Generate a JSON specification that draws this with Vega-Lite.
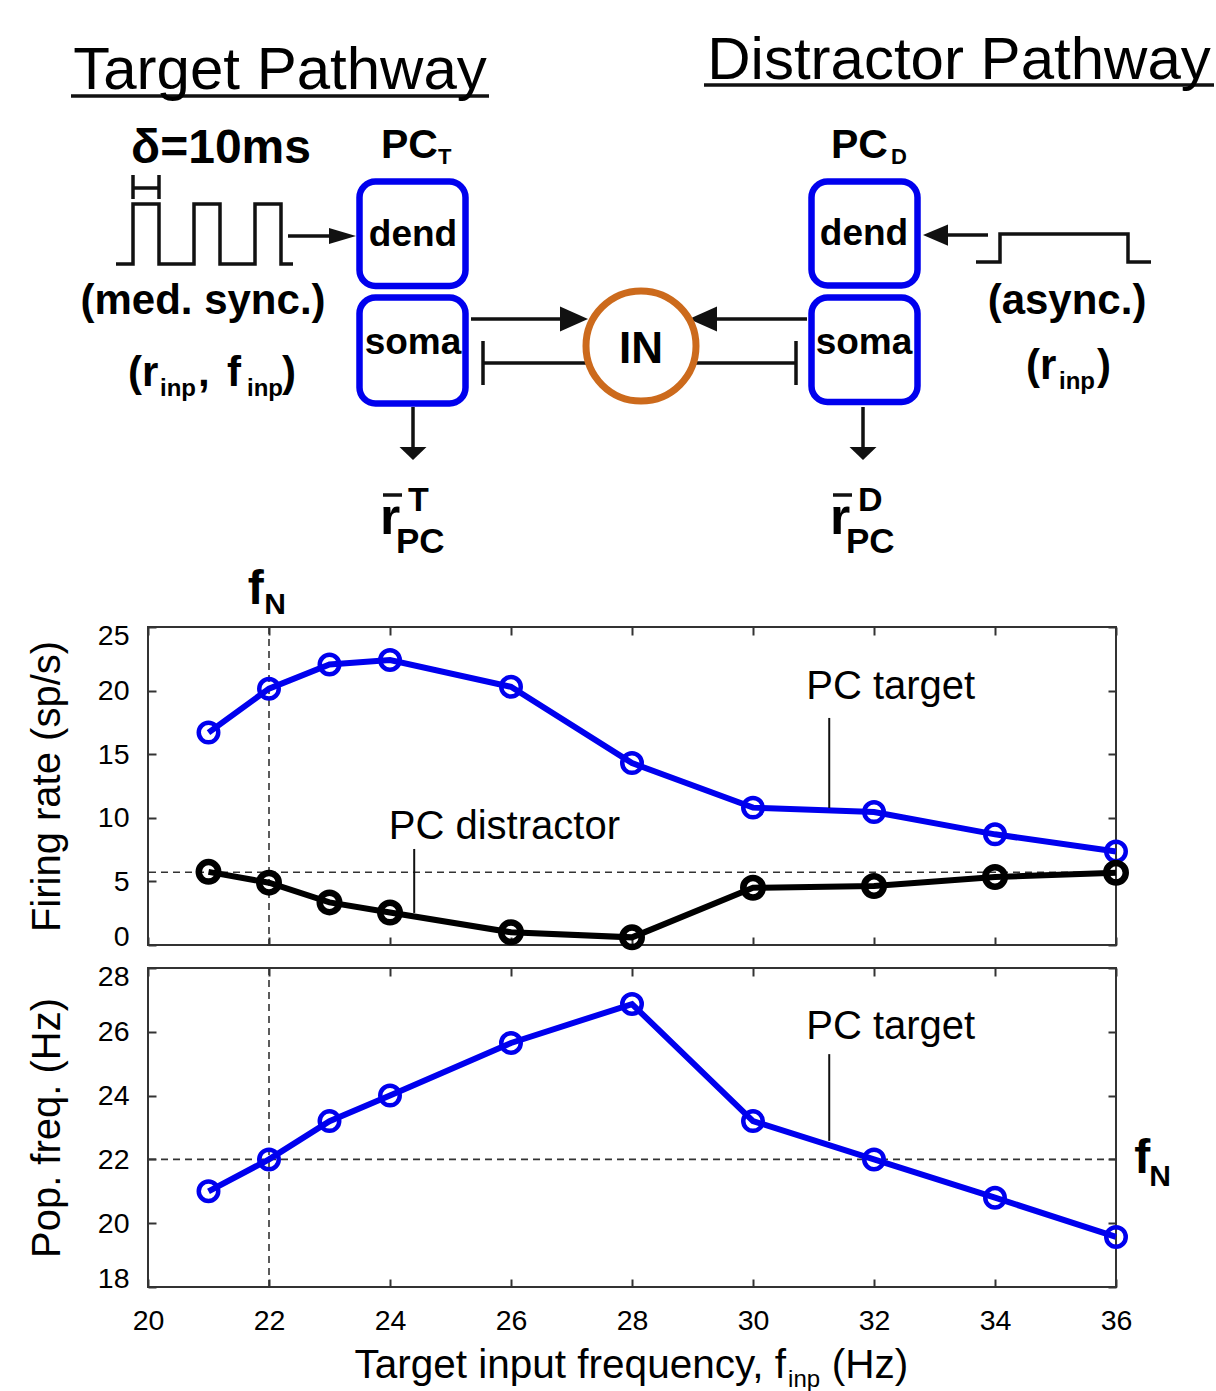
{
"$schema": "https://vega.github.io/schema/vega-lite/v6.json",
"background": "white",
"padding": {"left": 25, "top": 0, "right": 0, "bottom": 0},
"autosize": {"type": "pad"},
"bounds": "flush",
"spacing": 23,
"config": {
  "font": "Liberation Sans",
  "view": {"stroke": "#333333", "strokeWidth": 2},
  "axis": {"grid": false, "domain": false, "tickColor": "#333333", "tickWidth": 2, "tickSize": -8,
    "labelFlush": false, "labelOverlap": false,
    "labelFont": "Liberation Sans", "labelFontSize": 28.5, "labelColor": "#000000",
    "titleFont": "Liberation Sans", "titleFontSize": 40, "titleFontWeight": "normal", "titleColor": "#000000"}
},
"datasets": {
  "firing": [
    {"f": 21, "series": "PC target", "rate": 16.7},
    {"f": 22, "series": "PC target", "rate": 20.15},
    {"f": 23, "series": "PC target", "rate": 22.05},
    {"f": 24, "series": "PC target", "rate": 22.4},
    {"f": 26, "series": "PC target", "rate": 20.3},
    {"f": 28, "series": "PC target", "rate": 14.3},
    {"f": 30, "series": "PC target", "rate": 10.8},
    {"f": 32, "series": "PC target", "rate": 10.45},
    {"f": 34, "series": "PC target", "rate": 8.7},
    {"f": 36, "series": "PC target", "rate": 7.35},
    {"f": 21, "series": "PC distractor", "rate": 5.75},
    {"f": 22, "series": "PC distractor", "rate": 4.9},
    {"f": 23, "series": "PC distractor", "rate": 3.35},
    {"f": 24, "series": "PC distractor", "rate": 2.55},
    {"f": 26, "series": "PC distractor", "rate": 1.0},
    {"f": 28, "series": "PC distractor", "rate": 0.6},
    {"f": 30, "series": "PC distractor", "rate": 4.5},
    {"f": 32, "series": "PC distractor", "rate": 4.64},
    {"f": 34, "series": "PC distractor", "rate": 5.35},
    {"f": 36, "series": "PC distractor", "rate": 5.68}
  ],
  "popfreq": [
    {"f": 21, "freq": 21.0},
    {"f": 22, "freq": 22.0},
    {"f": 23, "freq": 23.2},
    {"f": 24, "freq": 24.0},
    {"f": 26, "freq": 25.65},
    {"f": 28, "freq": 26.87},
    {"f": 30, "freq": 23.2},
    {"f": 32, "freq": 22.0},
    {"f": 34, "freq": 20.8},
    {"f": 36, "freq": 19.57}
  ],
  "refRate": [{"f": 22, "rate": 5.72}],
  "refFreq": [{"f": 22, "freq": 22}],
  "leadersRate": [{"f": 31.26, "rate": 17.85, "rate2": 10.77}, {"f": 24.4, "rate": 7.55, "rate2": 2.52}],
  "leadersFreq": [{"f": 31.26, "freq": 25.3, "freq2": 22.58}],
  "labelsRate": [{"text": "PC target", "f": 30.88, "rate": 19.34}, {"text": "PC distractor", "f": 23.98, "rate": 8.33}],
  "labelsFreq": [{"text": "PC target", "f": 30.88, "freq": 25.77}],
  "fNRate": [{"text": "f", "role": "main", "f": 21.65, "rate": 26.8}, {"text": "N", "role": "sub", "f": 21.92, "rate": 26.02}],
  "fNFreq": [{"text": "f", "role": "main", "f": 36.3, "freq": 21.57}, {"text": "N", "role": "sub", "f": 36.55, "freq": 21.17}],
  "xTitle": [
    {"text": "Target input frequency, f", "role": "lead", "f": 30.545, "freq": 15.15},
    {"text": "inp", "role": "sub", "f": 30.58, "freq": 14.88},
    {"text": "(Hz)", "role": "tail", "f": 31.3, "freq": 15.15}
  ],
  "dgLines": [
    {"seg": "ul1", "i": 0, "x": 70, "y": 95}, {"seg": "ul1", "i": 1, "x": 488, "y": 95},
    {"seg": "ul2", "i": 0, "x": 703, "y": 84}, {"seg": "ul2", "i": 1, "x": 1213, "y": 84},
    {"seg": "pulseT", "i": 0, "x": 115, "y": 263}, {"seg": "pulseT", "i": 1, "x": 132, "y": 263},
    {"seg": "pulseT", "i": 2, "x": 132, "y": 203}, {"seg": "pulseT", "i": 3, "x": 158, "y": 203},
    {"seg": "pulseT", "i": 4, "x": 158, "y": 263}, {"seg": "pulseT", "i": 5, "x": 193, "y": 263},
    {"seg": "pulseT", "i": 6, "x": 193, "y": 203}, {"seg": "pulseT", "i": 7, "x": 219, "y": 203},
    {"seg": "pulseT", "i": 8, "x": 219, "y": 263}, {"seg": "pulseT", "i": 9, "x": 254, "y": 263},
    {"seg": "pulseT", "i": 10, "x": 254, "y": 203}, {"seg": "pulseT", "i": 11, "x": 280, "y": 203},
    {"seg": "pulseT", "i": 12, "x": 280, "y": 263}, {"seg": "pulseT", "i": 13, "x": 292, "y": 263},
    {"seg": "hL", "i": 0, "x": 132, "y": 174}, {"seg": "hL", "i": 1, "x": 132, "y": 198},
    {"seg": "hR", "i": 0, "x": 158, "y": 174}, {"seg": "hR", "i": 1, "x": 158, "y": 198},
    {"seg": "hC", "i": 0, "x": 132, "y": 187}, {"seg": "hC", "i": 1, "x": 158, "y": 187},
    {"seg": "pulseD", "i": 0, "x": 975, "y": 261}, {"seg": "pulseD", "i": 1, "x": 999, "y": 261},
    {"seg": "pulseD", "i": 2, "x": 999, "y": 233}, {"seg": "pulseD", "i": 3, "x": 1127, "y": 233},
    {"seg": "pulseD", "i": 4, "x": 1127, "y": 261}, {"seg": "pulseD", "i": 5, "x": 1150, "y": 261},
    {"seg": "a1", "i": 0, "x": 287, "y": 235}, {"seg": "a1", "i": 1, "x": 342, "y": 235},
    {"seg": "a2", "i": 0, "x": 987, "y": 234}, {"seg": "a2", "i": 1, "x": 934, "y": 234},
    {"seg": "a3", "i": 0, "x": 470, "y": 318}, {"seg": "a3", "i": 1, "x": 574, "y": 318},
    {"seg": "a4", "i": 0, "x": 806, "y": 318}, {"seg": "a4", "i": 1, "x": 701, "y": 318},
    {"seg": "inh1", "i": 0, "x": 586, "y": 362}, {"seg": "inh1", "i": 1, "x": 482, "y": 362},
    {"seg": "inh1b", "i": 0, "x": 482, "y": 340}, {"seg": "inh1b", "i": 1, "x": 482, "y": 384},
    {"seg": "inh2", "i": 0, "x": 694, "y": 362}, {"seg": "inh2", "i": 1, "x": 795, "y": 362},
    {"seg": "inh2b", "i": 0, "x": 795, "y": 340}, {"seg": "inh2b", "i": 1, "x": 795, "y": 384},
    {"seg": "out1", "i": 0, "x": 412, "y": 406}, {"seg": "out1", "i": 1, "x": 412, "y": 452},
    {"seg": "out2", "i": 0, "x": 862, "y": 406}, {"seg": "out2", "i": 1, "x": 862, "y": 452},
    {"seg": "bar1", "i": 0, "x": 382, "y": 494}, {"seg": "bar1", "i": 1, "x": 401, "y": 494},
    {"seg": "bar2", "i": 0, "x": 832, "y": 494}, {"seg": "bar2", "i": 1, "x": 851, "y": 494}
  ],
  "dgHeads": [
    {"kind": "rS", "x": 341.5, "y": 235},
    {"kind": "lS", "x": 934.5, "y": 234},
    {"kind": "rB", "x": 573, "y": 318},
    {"kind": "lB", "x": 702, "y": 318},
    {"kind": "dn", "x": 412, "y": 452.5},
    {"kind": "dn", "x": 862, "y": 452.5}
  ],
  "dgBoxes": [
    {"name": "dendT", "x": 358.5, "x2": 464.5, "y": 180.5, "y2": 285},
    {"name": "somaT", "x": 358.5, "x2": 464.5, "y": 296.5, "y2": 402.5},
    {"name": "dendD", "x": 810.5, "x2": 916.5, "y": 180.5, "y2": 284.5},
    {"name": "somaD", "x": 810.5, "x2": 916.5, "y": 296.5, "y2": 401}
  ],
  "dgNode": [{"name": "IN", "x": 640, "y": 345}],
  "dgTitles": [{"text": "Target Pathway", "x": 279, "y": 88}, {"text": "Distractor Pathway", "x": 958, "y": 78}],
  "dgCenter": [
    {"text": "δ=10ms", "role": "delta", "x": 220, "y": 162},
    {"text": "dend", "role": "box", "x": 412, "y": 245},
    {"text": "soma", "role": "box", "x": 412, "y": 353},
    {"text": "dend", "role": "box", "x": 863, "y": 244},
    {"text": "soma", "role": "box", "x": 863, "y": 353},
    {"text": "IN", "role": "node", "x": 640, "y": 362},
    {"text": "(med. sync.)", "role": "note", "x": 202, "y": 313},
    {"text": "(async.)", "role": "note", "x": 1066, "y": 313}
  ],
  "dgLeft": [
    {"text": "PC", "role": "pc", "x": 380, "y": 157},
    {"text": "T", "role": "pcsub", "x": 437, "y": 163},
    {"text": "PC", "role": "pc", "x": 830, "y": 157},
    {"text": "D", "role": "pcsub", "x": 890, "y": 163},
    {"text": "(r", "role": "note", "x": 127, "y": 385},
    {"text": "inp", "role": "inp", "x": 159, "y": 395},
    {"text": ",", "role": "note", "x": 197, "y": 385},
    {"text": "f", "role": "note", "x": 226, "y": 385},
    {"text": "inp", "role": "inp", "x": 246, "y": 395},
    {"text": ")", "role": "note", "x": 281, "y": 385},
    {"text": "(r", "role": "note", "x": 1025, "y": 378},
    {"text": "inp", "role": "inp", "x": 1058, "y": 388},
    {"text": ")", "role": "note", "x": 1096, "y": 378},
    {"text": "r", "role": "rbar", "x": 379, "y": 533},
    {"text": "PC", "role": "rsub", "x": 395, "y": 552},
    {"text": "T", "role": "rsup", "x": 407, "y": 510},
    {"text": "r", "role": "rbar", "x": 829, "y": 533},
    {"text": "PC", "role": "rsub", "x": 845, "y": 552},
    {"text": "D", "role": "rsup", "x": 857, "y": 510}
  ]
},
"vconcat": [
  {
    "width": 968, "height": 603,
    "view": {"stroke": "white", "fill": "white"},
    "layer": [
      {"data": {"name": "dgLines"},
       "mark": {"type": "line", "color": "#111111", "strokeWidth": 3.5, "strokeCap": "butt"},
       "encoding": {
         "x": {"field": "x", "type": "quantitative", "scale": {"domain": [147, 1115], "nice": false, "zero": false}, "axis": null},
         "y": {"field": "y", "type": "quantitative", "scale": {"domain": [0, 603], "nice": false, "zero": false, "reverse": true}, "axis": null},
         "detail": {"field": "seg", "type": "nominal"},
         "order": {"field": "i", "type": "quantitative"}}},
      {"data": {"name": "dgHeads"}, "transform": [{"filter": "datum.kind === 'rS'"}],
       "mark": {"type": "point", "shape": "M1,0L-1,-0.6L-1,0.6Z", "size": 729, "filled": true, "color": "#111111", "opacity": 1, "strokeWidth": 0},
       "encoding": {"x": {"field": "x", "type": "quantitative", "axis": null}, "y": {"field": "y", "type": "quantitative", "axis": null}}},
      {"data": {"name": "dgHeads"}, "transform": [{"filter": "datum.kind === 'lS'"}],
       "mark": {"type": "point", "shape": "M-1,0L1,-0.85L1,0.85Z", "size": 625, "filled": true, "color": "#111111", "opacity": 1, "strokeWidth": 0},
       "encoding": {"x": {"field": "x", "type": "quantitative", "axis": null}, "y": {"field": "y", "type": "quantitative", "axis": null}}},
      {"data": {"name": "dgHeads"}, "transform": [{"filter": "datum.kind === 'rB'"}],
       "mark": {"type": "point", "shape": "M1,0L-1,-0.9L-1,0.9Z", "size": 784, "filled": true, "color": "#111111", "opacity": 1, "strokeWidth": 0},
       "encoding": {"x": {"field": "x", "type": "quantitative", "axis": null}, "y": {"field": "y", "type": "quantitative", "axis": null}}},
      {"data": {"name": "dgHeads"}, "transform": [{"filter": "datum.kind === 'lB'"}],
       "mark": {"type": "point", "shape": "M-1,0L1,-0.9L1,0.9Z", "size": 784, "filled": true, "color": "#111111", "opacity": 1, "strokeWidth": 0},
       "encoding": {"x": {"field": "x", "type": "quantitative", "axis": null}, "y": {"field": "y", "type": "quantitative", "axis": null}}},
      {"data": {"name": "dgHeads"}, "transform": [{"filter": "datum.kind === 'dn'"}],
       "mark": {"type": "point", "shape": "M-1,-0.48L1,-0.48L0,0.48Z", "size": 729, "filled": true, "color": "#111111", "opacity": 1, "strokeWidth": 0},
       "encoding": {"x": {"field": "x", "type": "quantitative", "axis": null}, "y": {"field": "y", "type": "quantitative", "axis": null}}},
      {"data": {"name": "dgBoxes"},
       "mark": {"type": "rect", "cornerRadius": 16, "fill": "white", "stroke": "#0000ee", "strokeWidth": 6.5},
       "encoding": {"x": {"field": "x", "type": "quantitative", "axis": null}, "x2": {"field": "x2"},
         "y": {"field": "y", "type": "quantitative", "axis": null}, "y2": {"field": "y2"}}},
      {"data": {"name": "dgNode"},
       "mark": {"type": "point", "shape": "circle", "size": 12100, "filled": true, "fill": "white", "stroke": "#cc6a1c", "strokeWidth": 7, "opacity": 1},
       "encoding": {"x": {"field": "x", "type": "quantitative", "axis": null}, "y": {"field": "y", "type": "quantitative", "axis": null}}},
      {"data": {"name": "dgTitles"},
       "mark": {"type": "text", "font": "Liberation Sans", "fontSize": 60, "align": "center", "baseline": "alphabetic", "color": "#000000"},
       "encoding": {"x": {"field": "x", "type": "quantitative", "axis": null}, "y": {"field": "y", "type": "quantitative", "axis": null}, "text": {"field": "text"}}},
      {"data": {"name": "dgCenter"}, "transform": [{"filter": "datum.role === 'delta'"}],
       "mark": {"type": "text", "font": "Liberation Sans", "fontWeight": "bold", "fontSize": 48, "align": "center", "baseline": "alphabetic", "color": "#000000"},
       "encoding": {"x": {"field": "x", "type": "quantitative", "axis": null}, "y": {"field": "y", "type": "quantitative", "axis": null}, "text": {"field": "text"}}},
      {"data": {"name": "dgCenter"}, "transform": [{"filter": "datum.role === 'box'"}],
       "mark": {"type": "text", "font": "Liberation Sans", "fontWeight": "bold", "fontSize": 37, "align": "center", "baseline": "alphabetic", "color": "#000000"},
       "encoding": {"x": {"field": "x", "type": "quantitative", "axis": null}, "y": {"field": "y", "type": "quantitative", "axis": null}, "text": {"field": "text"}}},
      {"data": {"name": "dgCenter"}, "transform": [{"filter": "datum.role === 'node'"}],
       "mark": {"type": "text", "font": "Liberation Sans", "fontWeight": "bold", "fontSize": 44, "align": "center", "baseline": "alphabetic", "color": "#000000"},
       "encoding": {"x": {"field": "x", "type": "quantitative", "axis": null}, "y": {"field": "y", "type": "quantitative", "axis": null}, "text": {"field": "text"}}},
      {"data": {"name": "dgCenter"}, "transform": [{"filter": "datum.role === 'note'"}],
       "mark": {"type": "text", "font": "Liberation Sans", "fontWeight": "bold", "fontSize": 42, "align": "center", "baseline": "alphabetic", "color": "#000000"},
       "encoding": {"x": {"field": "x", "type": "quantitative", "axis": null}, "y": {"field": "y", "type": "quantitative", "axis": null}, "text": {"field": "text"}}},
      {"data": {"name": "dgLeft"}, "transform": [{"filter": "datum.role === 'pc'"}],
       "mark": {"type": "text", "font": "Liberation Sans", "fontWeight": "bold", "fontSize": 41, "align": "left", "baseline": "alphabetic", "color": "#000000"},
       "encoding": {"x": {"field": "x", "type": "quantitative", "axis": null}, "y": {"field": "y", "type": "quantitative", "axis": null}, "text": {"field": "text"}}},
      {"data": {"name": "dgLeft"}, "transform": [{"filter": "datum.role === 'pcsub'"}],
       "mark": {"type": "text", "font": "Liberation Sans", "fontWeight": "bold", "fontSize": 22, "align": "left", "baseline": "alphabetic", "color": "#000000"},
       "encoding": {"x": {"field": "x", "type": "quantitative", "axis": null}, "y": {"field": "y", "type": "quantitative", "axis": null}, "text": {"field": "text"}}},
      {"data": {"name": "dgLeft"}, "transform": [{"filter": "datum.role === 'note'"}],
       "mark": {"type": "text", "font": "Liberation Sans", "fontWeight": "bold", "fontSize": 42, "align": "left", "baseline": "alphabetic", "color": "#000000"},
       "encoding": {"x": {"field": "x", "type": "quantitative", "axis": null}, "y": {"field": "y", "type": "quantitative", "axis": null}, "text": {"field": "text"}}},
      {"data": {"name": "dgLeft"}, "transform": [{"filter": "datum.role === 'inp'"}],
       "mark": {"type": "text", "font": "Liberation Sans", "fontWeight": "bold", "fontSize": 24, "align": "left", "baseline": "alphabetic", "color": "#000000"},
       "encoding": {"x": {"field": "x", "type": "quantitative", "axis": null}, "y": {"field": "y", "type": "quantitative", "axis": null}, "text": {"field": "text"}}},
      {"data": {"name": "dgLeft"}, "transform": [{"filter": "datum.role === 'rbar'"}],
       "mark": {"type": "text", "font": "Liberation Sans", "fontWeight": "bold", "fontSize": 52, "align": "left", "baseline": "alphabetic", "color": "#000000"},
       "encoding": {"x": {"field": "x", "type": "quantitative", "axis": null}, "y": {"field": "y", "type": "quantitative", "axis": null}, "text": {"field": "text"}}},
      {"data": {"name": "dgLeft"}, "transform": [{"filter": "datum.role === 'rsub'"}],
       "mark": {"type": "text", "font": "Liberation Sans", "fontWeight": "bold", "fontSize": 35, "align": "left", "baseline": "alphabetic", "color": "#000000"},
       "encoding": {"x": {"field": "x", "type": "quantitative", "axis": null}, "y": {"field": "y", "type": "quantitative", "axis": null}, "text": {"field": "text"}}},
      {"data": {"name": "dgLeft"}, "transform": [{"filter": "datum.role === 'rsup'"}],
       "mark": {"type": "text", "font": "Liberation Sans", "fontWeight": "bold", "fontSize": 34, "align": "left", "baseline": "alphabetic", "color": "#000000"},
       "encoding": {"x": {"field": "x", "type": "quantitative", "axis": null}, "y": {"field": "y", "type": "quantitative", "axis": null}, "text": {"field": "text"}}}
    ]
  },
  {
    "width": 968, "height": 318,
    "resolve": {"axis": {"x": "independent", "y": "independent"}},
    "layer": [
      {"data": {"name": "refRate"},
       "mark": {"type": "rule", "color": "#333333", "strokeWidth": 1.6, "strokeDash": [7, 5]},
       "encoding": {"x": {"field": "f", "type": "quantitative", "axis": {"orient": "top", "labels": false, "values": [20, 22, 24, 26, 28, 30, 32, 34, 36], "title": null}}}},
      {"data": {"name": "refRate"},
       "mark": {"type": "rule", "color": "#333333", "strokeWidth": 1.6, "strokeDash": [7, 5]},
       "encoding": {"y": {"field": "rate", "type": "quantitative", "axis": {"orient": "right", "labels": false, "values": [0, 5, 10, 15, 20, 25], "title": null}}}},
      {"data": {"name": "firing"},
       "mark": {"type": "line", "strokeWidth": 6},
       "encoding": {
         "x": {"field": "f", "type": "quantitative", "scale": {"domain": [20, 36], "nice": false, "zero": false},
           "axis": {"orient": "bottom", "labels": false, "values": [20, 22, 24, 26, 28, 30, 32, 34, 36], "title": null}},
         "y": {"field": "rate", "type": "quantitative", "scale": {"domain": [0, 25], "nice": false},
           "axis": {"orient": "left", "values": [0, 5, 10, 15, 20, 25], "labelFlush": true, "labelFlushOffset": 6, "labelPadding": 27, "title": "Firing rate (sp/s)", "titleX": -89, "titleY": 159, "titleBaseline": "alphabetic"}},
         "color": {"field": "series", "type": "nominal", "scale": {"domain": ["PC target", "PC distractor"], "range": ["#0000ee", "#000000"]}, "legend": null}}},
      {"data": {"name": "firing"}, "transform": [{"filter": "datum.series === 'PC target'"}],
       "mark": {"type": "point", "shape": "circle", "size": 380, "filled": false, "color": "#0000ee", "strokeWidth": 4.5, "opacity": 1},
       "encoding": {"x": {"field": "f", "type": "quantitative", "axis": null}, "y": {"field": "rate", "type": "quantitative", "axis": null}}},
      {"data": {"name": "firing"}, "transform": [{"filter": "datum.series === 'PC distractor'"}],
       "mark": {"type": "point", "shape": "circle", "size": 380, "filled": false, "color": "#000000", "strokeWidth": 6.5, "opacity": 1},
       "encoding": {"x": {"field": "f", "type": "quantitative", "axis": null}, "y": {"field": "rate", "type": "quantitative", "axis": null}}},
      {"data": {"name": "leadersRate"},
       "mark": {"type": "rule", "color": "#111111", "strokeWidth": 2},
       "encoding": {"x": {"field": "f", "type": "quantitative", "axis": null}, "y": {"field": "rate", "type": "quantitative", "axis": null}, "y2": {"field": "rate2"}}},
      {"data": {"name": "labelsRate"},
       "mark": {"type": "text", "font": "Liberation Sans", "fontSize": 40, "align": "left", "baseline": "alphabetic", "color": "#000000"},
       "encoding": {"x": {"field": "f", "type": "quantitative", "axis": null}, "y": {"field": "rate", "type": "quantitative", "axis": null}, "text": {"field": "text"}}},
      {"data": {"name": "fNRate"}, "transform": [{"filter": "datum.role === 'main'"}],
       "mark": {"type": "text", "font": "Liberation Sans", "fontWeight": "bold", "fontSize": 48, "align": "left", "baseline": "alphabetic", "color": "#000000"},
       "encoding": {"x": {"field": "f", "type": "quantitative", "axis": null}, "y": {"field": "rate", "type": "quantitative", "axis": null}, "text": {"field": "text"}}},
      {"data": {"name": "fNRate"}, "transform": [{"filter": "datum.role === 'sub'"}],
       "mark": {"type": "text", "font": "Liberation Sans", "fontWeight": "bold", "fontSize": 30, "align": "left", "baseline": "alphabetic", "color": "#000000"},
       "encoding": {"x": {"field": "f", "type": "quantitative", "axis": null}, "y": {"field": "rate", "type": "quantitative", "axis": null}, "text": {"field": "text"}}}
    ]
  },
  {
    "width": 968, "height": 319,
    "resolve": {"axis": {"x": "independent", "y": "independent"}},
    "layer": [
      {"data": {"name": "refFreq"},
       "mark": {"type": "rule", "color": "#333333", "strokeWidth": 1.6, "strokeDash": [7, 5]},
       "encoding": {"x": {"field": "f", "type": "quantitative", "axis": {"orient": "top", "labels": false, "values": [20, 22, 24, 26, 28, 30, 32, 34, 36], "title": null}}}},
      {"data": {"name": "refFreq"},
       "mark": {"type": "rule", "color": "#333333", "strokeWidth": 1.6, "strokeDash": [7, 5]},
       "encoding": {"y": {"field": "freq", "type": "quantitative", "axis": {"orient": "right", "labels": false, "values": [18, 20, 22, 24, 26, 28], "title": null}}}},
      {"data": {"name": "popfreq"},
       "mark": {"type": "line", "strokeWidth": 6, "color": "#0000ee"},
       "encoding": {
         "x": {"field": "f", "type": "quantitative", "scale": {"domain": [20, 36], "nice": false, "zero": false},
           "axis": {"orient": "bottom", "values": [20, 22, 24, 26, 28, 30, 32, 34, 36], "labelPadding": 27, "title": null}},
         "y": {"field": "freq", "type": "quantitative", "scale": {"domain": [18, 28], "nice": false, "zero": false},
           "axis": {"orient": "left", "values": [18, 20, 22, 24, 26, 28], "labelFlush": true, "labelFlushOffset": 6, "labelPadding": 27, "title": "Pop. freq. (Hz)", "titleX": -89, "titleY": 159.5, "titleBaseline": "alphabetic"}}}},
      {"data": {"name": "popfreq"},
       "mark": {"type": "point", "shape": "circle", "size": 380, "filled": false, "color": "#0000ee", "strokeWidth": 4.5, "opacity": 1},
       "encoding": {"x": {"field": "f", "type": "quantitative", "axis": null}, "y": {"field": "freq", "type": "quantitative", "axis": null}}},
      {"data": {"name": "leadersFreq"},
       "mark": {"type": "rule", "color": "#111111", "strokeWidth": 2},
       "encoding": {"x": {"field": "f", "type": "quantitative", "axis": null}, "y": {"field": "freq", "type": "quantitative", "axis": null}, "y2": {"field": "freq2"}}},
      {"data": {"name": "labelsFreq"},
       "mark": {"type": "text", "font": "Liberation Sans", "fontSize": 40, "align": "left", "baseline": "alphabetic", "color": "#000000"},
       "encoding": {"x": {"field": "f", "type": "quantitative", "axis": null}, "y": {"field": "freq", "type": "quantitative", "axis": null}, "text": {"field": "text"}}},
      {"data": {"name": "fNFreq"}, "transform": [{"filter": "datum.role === 'main'"}],
       "mark": {"type": "text", "font": "Liberation Sans", "fontWeight": "bold", "fontSize": 48, "align": "left", "baseline": "alphabetic", "color": "#000000"},
       "encoding": {"x": {"field": "f", "type": "quantitative", "axis": null}, "y": {"field": "freq", "type": "quantitative", "axis": null}, "text": {"field": "text"}}},
      {"data": {"name": "fNFreq"}, "transform": [{"filter": "datum.role === 'sub'"}],
       "mark": {"type": "text", "font": "Liberation Sans", "fontWeight": "bold", "fontSize": 30, "align": "left", "baseline": "alphabetic", "color": "#000000"},
       "encoding": {"x": {"field": "f", "type": "quantitative", "axis": null}, "y": {"field": "freq", "type": "quantitative", "axis": null}, "text": {"field": "text"}}},
      {"data": {"name": "xTitle"}, "transform": [{"filter": "datum.role === 'lead'"}],
       "mark": {"type": "text", "font": "Liberation Sans", "fontSize": 40.5, "align": "right", "baseline": "alphabetic", "color": "#000000"},
       "encoding": {"x": {"field": "f", "type": "quantitative", "axis": null}, "y": {"field": "freq", "type": "quantitative", "axis": null}, "text": {"field": "text"}}},
      {"data": {"name": "xTitle"}, "transform": [{"filter": "datum.role === 'sub'"}],
       "mark": {"type": "text", "font": "Liberation Sans", "fontSize": 24, "align": "left", "baseline": "alphabetic", "color": "#000000"},
       "encoding": {"x": {"field": "f", "type": "quantitative", "axis": null}, "y": {"field": "freq", "type": "quantitative", "axis": null}, "text": {"field": "text"}}},
      {"data": {"name": "xTitle"}, "transform": [{"filter": "datum.role === 'tail'"}],
       "mark": {"type": "text", "font": "Liberation Sans", "fontSize": 40.5, "align": "left", "baseline": "alphabetic", "color": "#000000"},
       "encoding": {"x": {"field": "f", "type": "quantitative", "axis": null}, "y": {"field": "freq", "type": "quantitative", "axis": null}, "text": {"field": "text"}}}
    ]
  }
]
}
